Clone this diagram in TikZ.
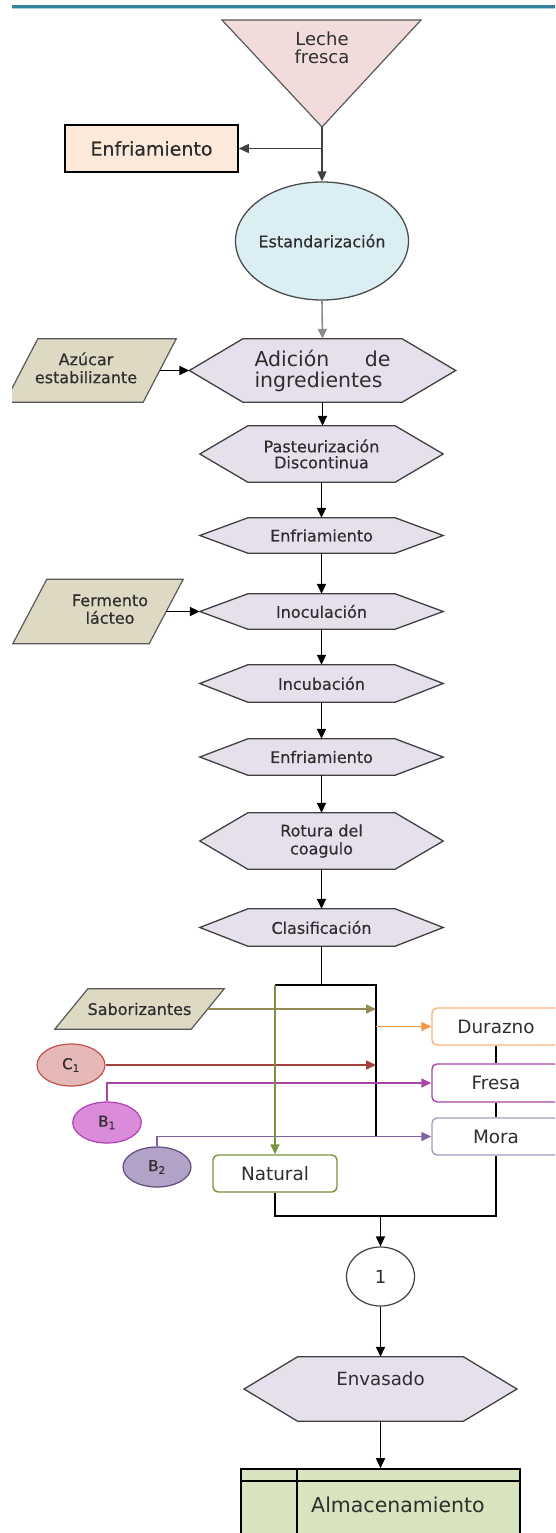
\documentclass[tikz,border=0pt]{standalone}
\usepackage{fontspec}
\setmainfont{DejaVu Sans}
\newfontfamily\heavyfont[FakeBold=0.45]{DejaVu Sans}
\usetikzlibrary{arrows.meta,shapes.geometric,backgrounds,calc}

\definecolor{txt}{HTML}{2E2E2E}
\definecolor{rulecol}{HTML}{31849B}
\definecolor{rulelight}{HTML}{A5CFE0}
\definecolor{milkfill}{HTML}{F2DCDB}
\definecolor{coolfill}{HTML}{FDE9D9}
\definecolor{stdfill}{HTML}{DBEEF3}
\definecolor{procfill}{HTML}{E5E0EC}
\definecolor{datafill}{HTML}{DDD9C3}
\definecolor{storefill}{HTML}{D7E4BD}
\definecolor{flavline}{HTML}{948A54}
\definecolor{peach}{HTML}{F79646}
\definecolor{peachlight}{HTML}{FAB47A}
\definecolor{redline}{HTML}{A5403D}
\definecolor{cfill}{HTML}{E6B9B8}
\definecolor{cborder}{HTML}{C0504D}
\definecolor{bfill}{HTML}{DA8CDA}
\definecolor{bborder}{HTML}{B040B0}
\definecolor{magline}{HTML}{A845A8}
\definecolor{btwofill}{HTML}{B3A2C7}
\definecolor{btwoborder}{HTML}{604A7B}
\definecolor{purpline}{HTML}{8064A2}
\definecolor{moraborder}{HTML}{A898C0}
\definecolor{greenline}{HTML}{77933C}

\newcommand\fsz[2]{\fontsize{#1}{#2}\selectfont}

\tikzset{
  lbl/.style={text=txt, inner sep=0pt, align=center},
  flow/.style={line width=1.6pt, draw=black, -{Triangle[length=10pt,width=9pt]}},
  plain/.style={line width=1.6pt, draw=black},
  hexframe/.style={draw=black!75, line width=1.3pt, fill=procfill},
  dataframe/.style={draw=black!65, line width=1.2pt, fill=datafill},
  flavbox/.style={rounded corners=5pt, line width=1.4pt, fill=white, minimum width=128,
    inner sep=0pt, text=txt, font=\fsz{18.4}{20}},
  colflow/.style={line width=1.4pt, -{Triangle[length=10pt,width=9pt]}},
  tagnode/.style={ellipse, line width=1.2pt, inner sep=0pt, text=txt, font=\heavyfont\fsz{15}{15}},
}

% process step drawn as an elongated hexagon: name, cx, cy, width, height, point depth, text
\newcommand\hexproc[8][]{%
  \node[lbl,font=\heavyfont\fsz{16}{16.5},minimum width=#5,minimum height=#6,#1] (#2) at (#3,#4) {#8};
  \begin{scope}[on background layer]
    \draw[hexframe] (#2.west) -- ([xshift=#7]#2.north west) -- ([xshift=-#7]#2.north east)
      -- (#2.east) -- ([xshift=-#7]#2.south east) -- ([xshift=#7]#2.south west) -- cycle;
  \end{scope}}

% input drawn as a parallelogram: name, cx, cy, width, height, slant, text
\newcommand\datain[8][]{%
  \node[lbl,font=\heavyfont\fsz{16}{18},minimum width=#5,minimum height=#6,#1] (#2) at (#3,#4) {#8};
  \begin{scope}[on background layer]
    \clip (12,0) rectangle (555,1533);
    \draw[dataframe] ([xshift=#7]#2.north west) -- (#2.north east)
      -- ([xshift=-#7]#2.south east) -- (#2.south west) -- cycle;
  \end{scope}}

\begin{document}
\begin{tikzpicture}[x=1pt,y=-1pt]
\useasboundingbox (0,0) rectangle (555,1533);
\clip (0,0) rectangle (555,1533);

% header rule
\draw[rulecol, line width=2.2pt] (12,6.5) -- (555,6.5);
\draw[rulelight, line width=1pt] (12,8.4) -- (555,8.4);

% raw milk
\coordinate (apex) at (322,127);
\draw[fill=milkfill, draw=black!65, line width=1.2pt] (222,20) -- (421,20) -- (apex) -- cycle;
\node[lbl, font=\fsz{18}{17.5}] (leche) at (322,48) {Leche\\fresca};

\node[draw=black, line width=1.6pt, fill=coolfill, minimum width=173, minimum height=47,
  inner sep=0pt, text=txt, font=\heavyfont\fsz{19}{20}] (enf1) at (151.5,148.5) {Enfriamiento};

\node[ellipse, draw=black!70, line width=1.3pt, fill=stdfill, minimum width=173,
  minimum height=118, inner sep=0pt, text=txt, font=\heavyfont\fsz{16}{18}] (estd) at (322,241)
  {\makebox[0pt]{Estandarización}};

% main process column
\hexproc[font=\fsz{20.5}{21}, align=left]{adic}{322.5}{370.5}{266}{63}{53.5}
  {\makebox[136pt][s]{Adición\hfill de}\\ingredientes}
\hexproc[font=\heavyfont\fsz{16}{16}]{past}{321.5}{454}{243}{56}{48}{Pasteurización\\Discontinua}
\hexproc{enf2}{321.5}{535.5}{243}{35}{48}{Enfriamiento}
\hexproc{inoc}{321.5}{611.5}{243}{35}{48}{Inoculación}
\hexproc{incu}{321.5}{683.5}{243}{37}{48}{Incubación}
\hexproc{enf3}{321.5}{757}{243}{36}{48}{Enfriamiento}
\hexproc[font=\heavyfont\fsz{16}{18}]{rot}{321.5}{841}{243}{56}{48}{Rotura del\\coagulo}
\hexproc{clas}{321.5}{927.5}{243}{37}{48}{Clasificación}

% inputs
\datain{azuc}{90.5}{370.5}{171}{63}{33}
  {\begin{tabular}{@{}c@{\hspace{9pt}}}Azúcar\\estabilizante\end{tabular}}
\datain[font=\heavyfont\fsz{16}{16}]{ferm}{98}{611.5}{170}{64}{34}
  {\begin{tabular}{@{\hspace{24pt}}c@{}}Fermento\\lácteo\end{tabular}}
\datain{sab}{139.5}{1009}{169}{40}{33}{Saborizantes}

% connectors of the main column
\draw[flow, draw=black!75] (apex) -- (estd.north);
\draw[flow, draw=black!75] (apex |- enf1.east) -- (enf1.east);
\draw[flow, draw=black!45] (estd.south) -- (adic.north);
\draw[flow] ([xshift=-16.5]azuc.east) -- (adic.west);
\draw[flow] (adic.south) -- (adic.south |- past.north);
\draw[flow] (past.south) -- (enf2.north);
\draw[flow] (enf2.south) -- (inoc.north);
\draw[flow] ([xshift=-17]ferm.east) -- (inoc.west);
\draw[flow] (inoc.south) -- (incu.north);
\draw[flow] (incu.south) -- (enf3.north);
\draw[flow] (enf3.south) -- (rot.north);
\draw[flow] (rot.south) -- (clas.north);

% flavour branches
\node[flavbox, draw=peachlight, minimum height=37] (dur) at (496,1026.5) {Durazno};
\node[flavbox, draw=magline, minimum height=38] (fre) at (496,1083) {Fresa};
\node[flavbox, draw=moraborder, minimum height=37] (mor) at (496,1136.5) {Mora};
\node[flavbox, draw=greenline, minimum width=124, minimum height=37] (nat) at (275,1173.5) {Natural};

\node[tagnode, draw=cborder, fill=cfill, minimum width=68, minimum height=42] (c1) at (71,1065) {C\textsubscript{1}};
\node[tagnode, draw=bborder, fill=bfill, minimum width=68.5, minimum height=41] (b1) at (107,1122.5) {B\textsubscript{1}};
\node[tagnode, draw=btwoborder, fill=btwofill, minimum width=68, minimum height=40] (b2) at (157,1167) {B\textsubscript{2}};

\coordinate (jT) at (321.5,985);
\coordinate (jL) at (275,985);
\coordinate (jR) at (376,985);
\coordinate (jRb) at (376,1136.5);
\draw[plain] (clas.south) -- (jT);
\draw[plain] (jL) -- (jR) -- (jRb);

\draw[colflow, flavline] ([xshift=-16.5]sab.east) -- (sab.east -| jR);
\draw[colflow, peach] (dur.west -| jR) -- (dur.west);
\draw[colflow, redline] (c1.east) -- (c1.east -| jR);
\draw[colflow, magline] (b1.north) |- (fre.west);
\draw[colflow, purpline] (b2.north) |- (mor.west);
\draw[colflow, greenline] (jL) -- (nat.north);

% merge and final steps
\coordinate (jB) at (380.5,1216);
\draw[plain] (dur.south) -- (fre.north);
\draw[plain] (fre.south) -- (mor.north);
\draw[plain] (nat.south) |- (jB) -| (mor.south);

\node[ellipse, draw=black!75, line width=1.2pt, fill=white, minimum width=68, minimum height=59,
  inner sep=0pt, text=txt, font=\fsz{18}{18}] (one) at (380.5,1276.5) {\raisebox{-5pt}{1}};
\draw[flow] (jB) -- (one.north);

\hexproc[font=\fsz{18.2}{18}, text depth=20pt]{envas}{380.5}{1389}{272.5}{64}{53.5}{Envasado}
\draw[flow] (one.south) -- (envas.north);

\node[draw=black, line width=1.6pt, fill=storefill, minimum width=279, minimum height=71,
  inner sep=0pt, text=txt, font=\fsz{20.5}{21}] (alm) at (380.5,1504.5) {\hspace*{35pt}Almacenamiento};
\draw[line width=1.6pt] ([yshift=-13]alm.north west) -- ([yshift=-13]alm.north east);
\draw[line width=1.6pt] ([xshift=56.5]alm.north west) -- ([xshift=56.5]alm.south west);
\draw[flow] (envas.south) -- (alm.north);
\end{tikzpicture}
\end{document}
